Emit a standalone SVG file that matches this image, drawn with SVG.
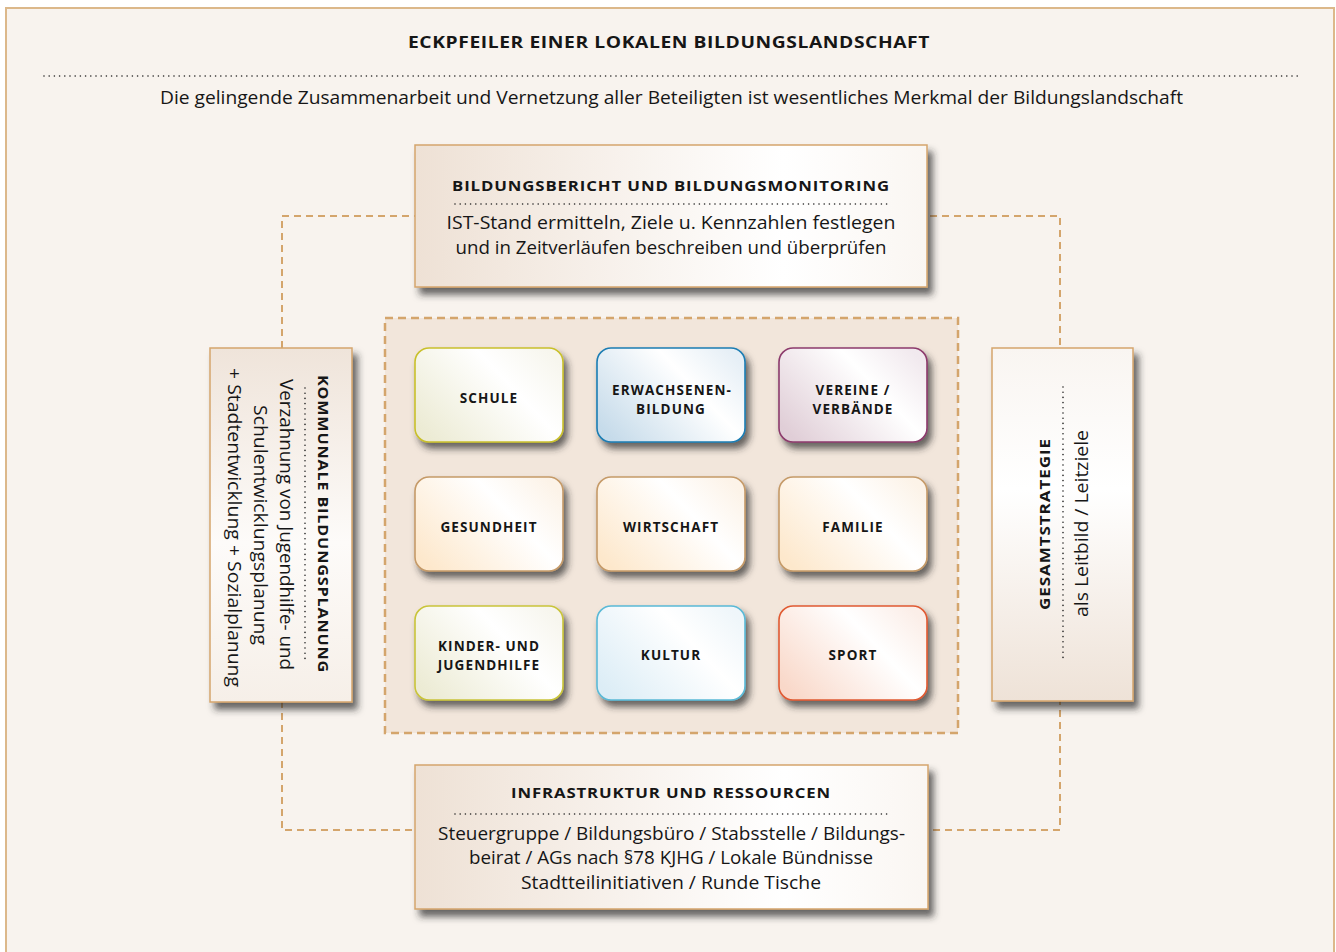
<svg xmlns="http://www.w3.org/2000/svg" width="1336" height="952" viewBox="0 0 1336 952">
  <style>
    .frame { fill: #f8f3ee; stroke: #dcb88a; stroke-width: 2; }
    .link { fill: none; stroke: #d4a56c; stroke-width: 2; stroke-dasharray: 7 5; }
    .area { fill: #f2e6db; stroke: #d4a56c; stroke-width: 2.5; stroke-dasharray: 8 5; }
    .dots { fill: none; stroke: #222; stroke-width: 1.6; stroke-linecap: round; stroke-dasharray: 0 5.2; }
    .panel { stroke: #d5a56c; stroke-width: 1.5; }
    .card { stroke-width: 1.6; }
    text { font-family: "Open Sans", "Noto Sans", "Liberation Sans", sans-serif; fill: #161616; text-anchor: middle; }
    .title { font-size: 16px; font-weight: 700; letter-spacing: 0.5px; }
    .sub { font-size: 18px; }
    .hd { font-size: 15px; font-weight: 700; letter-spacing: 0.8px; }
    .body { font-size: 18.5px; }
    .lbl { font-size: 13.5px; font-weight: 700; letter-spacing: 1.1px; }
  </style>
  <defs>
    <filter id="shadow" x="-20%" y="-20%" width="150%" height="150%">
      <feDropShadow dx="5" dy="7" stdDeviation="3.5" flood-color="#2a2a2a" flood-opacity="0.7"/>
    </filter>
    <filter id="shadowS" x="-20%" y="-20%" width="150%" height="150%">
      <feDropShadow dx="4" dy="6" stdDeviation="3.5" flood-color="#2a2a2a" flood-opacity="0.7"/>
    </filter>
    <linearGradient id="gH" x1="0" y1="0" x2="1" y2="0">
      <stop offset="0" stop-color="#eee1d5"/>
      <stop offset="0.72" stop-color="#ffffff"/>
      <stop offset="1" stop-color="#faf6f2"/>
    </linearGradient>
    <linearGradient id="gVdown" x1="0" y1="0" x2="0" y2="1">
      <stop offset="0" stop-color="#efe4da"/>
      <stop offset="0.55" stop-color="#fdfbf9"/>
      <stop offset="1" stop-color="#f6efe8"/>
    </linearGradient>
    <linearGradient id="gVup" x1="0" y1="0" x2="0" y2="1">
      <stop offset="0" stop-color="#f9f5f1"/>
      <stop offset="0.4" stop-color="#ffffff"/>
      <stop offset="1" stop-color="#eee2d7"/>
    </linearGradient>
    <linearGradient id="gYellow" x1="0" y1="0.8" x2="1" y2="0.2">
      <stop offset="0" stop-color="#ecebd4"/>
      <stop offset="0.65" stop-color="#ffffff"/>
      <stop offset="1" stop-color="#f7f6ee"/>
    </linearGradient>
    <linearGradient id="gBlue" x1="0" y1="0.8" x2="1" y2="0.2">
      <stop offset="0" stop-color="#c6dbea"/>
      <stop offset="0.65" stop-color="#ffffff"/>
      <stop offset="1" stop-color="#e6eff6"/>
    </linearGradient>
    <linearGradient id="gPurple" x1="0" y1="0.8" x2="1" y2="0.2">
      <stop offset="0" stop-color="#e0ced7"/>
      <stop offset="0.65" stop-color="#ffffff"/>
      <stop offset="1" stop-color="#f1e9ee"/>
    </linearGradient>
    <linearGradient id="gTan" x1="0" y1="0.8" x2="1" y2="0.2">
      <stop offset="0" stop-color="#fde8cc"/>
      <stop offset="0.65" stop-color="#ffffff"/>
      <stop offset="1" stop-color="#fcf3e8"/>
    </linearGradient>
    <linearGradient id="gCyan" x1="0" y1="0.8" x2="1" y2="0.2">
      <stop offset="0" stop-color="#dcedf6"/>
      <stop offset="0.65" stop-color="#ffffff"/>
      <stop offset="1" stop-color="#eff6fa"/>
    </linearGradient>
    <linearGradient id="gRed" x1="0" y1="0.8" x2="1" y2="0.2">
      <stop offset="0" stop-color="#f9d8c9"/>
      <stop offset="0.65" stop-color="#ffffff"/>
      <stop offset="1" stop-color="#fbeee8"/>
    </linearGradient>
  </defs>

  <!-- page frame -->
  <rect class="frame" x="6" y="8" width="1328" height="960"/>

  <!-- heading -->
  <g id="heading">
    <text class="title" x="669" y="48" textLength="522" lengthAdjust="spacingAndGlyphs">ECKPFEILER EINER LOKALEN BILDUNGSLANDSCHAFT</text>
    <line class="dots" x1="44" y1="76" x2="1299" y2="76"/>
    <text class="sub" x="671.5" y="103.5" textLength="1023" lengthAdjust="spacingAndGlyphs">Die gelingende Zusammenarbeit und Vernetzung aller Beteiligten ist wesentliches Merkmal der Bildungslandschaft</text>
  </g>

  <!-- dashed connectors between the four pillars -->
  <g id="connectors">
    <rect class="link" x="282" y="216" width="778" height="614"/>
  </g>

  <!-- central field of partners -->
  <rect id="partner-field" class="area" x="385" y="318" width="573" height="415"/>

  <!-- top pillar -->
  <g id="bildungsbericht">
    <rect class="panel" x="415" y="145" width="512" height="142" fill="url(#gH)" filter="url(#shadow)"/>
    <text class="hd" x="671" y="191" textLength="438" lengthAdjust="spacingAndGlyphs">BILDUNGSBERICHT UND BILDUNGSMONITORING</text>
    <line class="dots" x1="455" y1="204" x2="890" y2="204"/>
    <text class="body" x="671" y="229" textLength="449" lengthAdjust="spacingAndGlyphs">IST-Stand ermitteln, Ziele u. Kennzahlen festlegen</text>
    <text class="body" x="671" y="254" textLength="431" lengthAdjust="spacingAndGlyphs">und in Zeitverläufen beschreiben und überprüfen</text>
  </g>

  <!-- left pillar -->
  <g id="bildungsplanung">
    <rect class="panel" x="210" y="348" width="142" height="354" fill="url(#gVdown)" filter="url(#shadow)"/>
    <text class="hd" transform="translate(318 524) rotate(90)" textLength="298" lengthAdjust="spacingAndGlyphs">KOMMUNALE BILDUNGSPLANUNG</text>
    <line class="dots" x1="305" y1="388" x2="305" y2="662"/>
    <text class="body" transform="translate(280 524.5) rotate(90)" textLength="291" lengthAdjust="spacingAndGlyphs">Verzahnung von Jugendhilfe- und</text>
    <text class="body" transform="translate(254 525) rotate(90)" textLength="240" lengthAdjust="spacingAndGlyphs">Schulentwicklungsplanung</text>
    <text class="body" transform="translate(228 527.5) rotate(90)" textLength="319" lengthAdjust="spacingAndGlyphs">+ Stadtentwicklung + Sozialplanung</text>
  </g>

  <!-- right pillar -->
  <g id="gesamtstrategie">
    <rect class="panel" x="992" y="348" width="141" height="353" fill="url(#gVup)" filter="url(#shadow)"/>
    <text class="hd" transform="translate(1050 524) rotate(-90)" textLength="172" lengthAdjust="spacingAndGlyphs">GESAMTSTRATEGIE</text>
    <line class="dots" x1="1063" y1="387" x2="1063" y2="662"/>
    <text class="body" transform="translate(1088 523.5) rotate(-90)" textLength="187" lengthAdjust="spacingAndGlyphs">als Leitbild / Leitziele</text>
  </g>

  <!-- bottom pillar -->
  <g id="infrastruktur">
    <rect class="panel" x="415" y="765" width="513" height="144" fill="url(#gH)" filter="url(#shadow)"/>
    <text class="hd" x="671" y="798" textLength="320" lengthAdjust="spacingAndGlyphs">INFRASTRUKTUR UND RESSOURCEN</text>
    <line class="dots" x1="455" y1="814" x2="890" y2="814"/>
    <text class="body" x="671.5" y="840" textLength="467" lengthAdjust="spacingAndGlyphs">Steuergruppe / Bildungsbüro / Stabsstelle / Bildungs-</text>
    <text class="body" x="671" y="864" textLength="404" lengthAdjust="spacingAndGlyphs">beirat / AGs nach §78 KJHG / Lokale Bündnisse</text>
    <text class="body" x="671" y="889" textLength="300" lengthAdjust="spacingAndGlyphs">Stadtteilinitiativen / Runde Tische</text>
  </g>

  <!-- partner cards -->
  <g id="schule">
    <rect class="card" x="415" y="348" width="148" height="94" rx="14" fill="url(#gYellow)" stroke="#c9c02c" filter="url(#shadowS)"/>
    <text class="lbl" x="489" y="402.5">SCHULE</text>
  </g>
  <g id="erwachsenenbildung">
    <rect class="card" x="597" y="348" width="148" height="94" rx="14" fill="url(#gBlue)" stroke="#1b7db3" filter="url(#shadowS)"/>
    <text class="lbl" x="672" y="395">ERWACHSENEN-</text>
    <text class="lbl" x="671" y="413.5">BILDUNG</text>
  </g>
  <g id="vereine">
    <rect class="card" x="779" y="348" width="148" height="94" rx="14" fill="url(#gPurple)" stroke="#8c3a6c" filter="url(#shadowS)"/>
    <text class="lbl" x="853" y="395">VEREINE /</text>
    <text class="lbl" x="853" y="413.5">VERBÄNDE</text>
  </g>
  <g id="gesundheit">
    <rect class="card" x="415" y="477" width="148" height="94" rx="14" fill="url(#gTan)" stroke="#c59a68" filter="url(#shadowS)"/>
    <text class="lbl" x="489" y="532">GESUNDHEIT</text>
  </g>
  <g id="wirtschaft">
    <rect class="card" x="597" y="477" width="148" height="94" rx="14" fill="url(#gTan)" stroke="#c59a68" filter="url(#shadowS)"/>
    <text class="lbl" x="671" y="532">WIRTSCHAFT</text>
  </g>
  <g id="familie">
    <rect class="card" x="779" y="477" width="148" height="94" rx="14" fill="url(#gTan)" stroke="#c59a68" filter="url(#shadowS)"/>
    <text class="lbl" x="853" y="532">FAMILIE</text>
  </g>
  <g id="jugendhilfe">
    <rect class="card" x="415" y="606" width="148" height="94" rx="14" fill="url(#gYellow)" stroke="#c9c43a" filter="url(#shadowS)"/>
    <text class="lbl" x="489" y="651">KINDER- UND</text>
    <text class="lbl" x="489" y="669.5">JUGENDHILFE</text>
  </g>
  <g id="kultur">
    <rect class="card" x="597" y="606" width="148" height="94" rx="14" fill="url(#gCyan)" stroke="#5ab9d6" filter="url(#shadowS)"/>
    <text class="lbl" x="671" y="660">KULTUR</text>
  </g>
  <g id="sport">
    <rect class="card" x="779" y="606" width="148" height="94" rx="14" fill="url(#gRed)" stroke="#e05a32" filter="url(#shadowS)"/>
    <text class="lbl" x="853" y="660">SPORT</text>
  </g>
</svg>
